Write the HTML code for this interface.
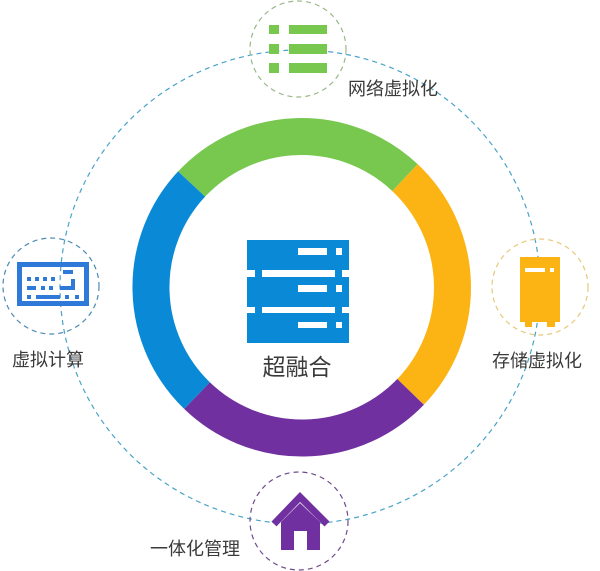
<!DOCTYPE html>
<html><head><meta charset="utf-8"><style>
html,body{margin:0;padding:0;background:#fff;}
svg{display:block;}
text{font-family:"Liberation Sans","Noto Sans CJK SC",sans-serif;fill:#3a3a3a;}
</style></head><body>
<svg width="600" height="571" viewBox="0 0 600 571" xmlns="http://www.w3.org/2000/svg">
<!-- big dashed orbit -->
<ellipse cx="300" cy="287" rx="240" ry="237" fill="none" stroke="#4aa3c8" stroke-width="1.2" stroke-dasharray="5,4"/>
<!-- ring -->
<g fill="none" stroke-width="37">
<path d="M 191.6 184.0 A 151 151 0 0 1 405.0 177.6" stroke="#78c850"/>
<path d="M 405.0 177.6 A 151 151 0 0 1 410.6 391.9" stroke="#fbb414"/>
<path d="M 410.6 391.9 A 151 151 0 0 1 197.0 395.6" stroke="#7030a0"/>
<path d="M 197.0 395.6 A 151 151 0 0 1 191.6 184.0" stroke="#0a8ad6"/>
</g>
<!-- server icon -->
<rect x="247" y="240" width="102" height="103" fill="#0a8ad6"/>
<g fill="#fff">
<rect x="298" y="248" width="29" height="7"/><rect x="336" y="248" width="6" height="7"/>
<rect x="247" y="270" width="8" height="7"/><rect x="262" y="270" width="73" height="7"/><rect x="342" y="270" width="7" height="7"/>
<rect x="298" y="285" width="29" height="7"/><rect x="336" y="285" width="6" height="7"/>
<rect x="247" y="307" width="8" height="6"/><rect x="262" y="307" width="73" height="6"/><rect x="342" y="307" width="7" height="6"/>
<rect x="298" y="322" width="29" height="6"/><rect x="336" y="322" width="6" height="6"/>
</g>
<text x="297" y="375" font-size="23" text-anchor="middle">超融合</text>

<!-- top circle -->
<circle cx="298" cy="49" r="48" fill="none" stroke="#9ab88a" stroke-width="1.2" stroke-dasharray="5,4"/>
<g fill="#78c850">
<rect x="269" y="25" width="10" height="9"/><rect x="289" y="25" width="38" height="9"/>
<rect x="269" y="44" width="10" height="10"/><rect x="289" y="44" width="38" height="10"/>
<rect x="269" y="63" width="10" height="10"/><rect x="289" y="63" width="38" height="10"/>
</g>
<text x="348" y="95" font-size="18">网络虚拟化</text>

<!-- left circle -->
<circle cx="51" cy="286" r="48" fill="none" stroke="#4a8bb5" stroke-width="1.2" stroke-dasharray="5,4"/>
<rect x="19.5" y="264.5" width="67" height="39" fill="none" stroke="#2f7ad8" stroke-width="5"/>
<g fill="#2f7ad8">
<rect x="27" y="277" width="4" height="4"/><rect x="35" y="277" width="4" height="4"/><rect x="43" y="277" width="4" height="4"/><rect x="51" y="277" width="4" height="4"/>
<rect x="63" y="270" width="10" height="4"/>
<rect x="27" y="286" width="9" height="4"/><rect x="41" y="286" width="4" height="4"/><rect x="49" y="286" width="4" height="4"/>
<rect x="60" y="286" width="15" height="4"/><rect x="71" y="279" width="4" height="9"/>
<rect x="27" y="295" width="4" height="4"/><rect x="36" y="295" width="24" height="4"/><rect x="65" y="295" width="4" height="4"/><rect x="75" y="295" width="4" height="4"/>
</g>
<text x="12" y="366" font-size="18">虚拟计算</text>

<!-- right circle -->
<circle cx="540" cy="287" r="48" fill="none" stroke="#e8c87a" stroke-width="1.2" stroke-dasharray="5,4"/>
<path d="M520 257 H560 V322 H555 V327 H547 V322 H532 V327 H525 V322 H520 Z" fill="#fbb414"/>
<rect x="525" y="268" width="20" height="4" fill="#fff"/><rect x="550" y="268" width="4" height="4" fill="#fff"/>
<text x="492" y="367" font-size="18">存储虚拟化</text>

<!-- bottom circle -->
<circle cx="299" cy="521" r="49" fill="none" stroke="#6e4b8c" stroke-width="1.2" stroke-dasharray="5,4"/>
<polyline points="274,524 300,497 327,524" fill="none" stroke="#7030a0" stroke-width="7"/>
<path d="M281 522 L300 503 L320 522 V550 H307 V531 H294 V550 H281 Z" fill="#7030a0"/>
<text x="150" y="555" font-size="18">一体化管理</text>
</svg>
</body></html>
